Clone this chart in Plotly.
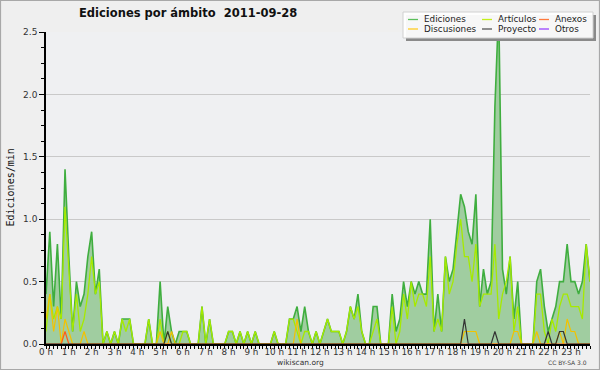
import plotly.graph_objects as go

# 10-minute bins, 0h00 .. 23h50 (edits per minute)
bins = list(range(144))
hour_ticks = list(range(0, 144, 6))
hour_labels = [f"{h} h" for h in range(24)]

ediciones = [0.4, 0.9, 0.3, 0.8, 0.2, 1.4, 0.7, 0.1, 0.5, 0.3, 0.4, 0.7,
             0.9, 0.4, 0.6, 0.0, 0.1, 0.0, 0.1, 0.0, 0.2, 0.2, 0.2, 0.0,
             0.0, 0.0, 0.0, 0.2, 0.0, 0.0, 0.5, 0.0, 0.3, 0.1, 0.0, 0.1,
             0.1, 0.1, 0.0, 0.0, 0.0, 0.3, 0.0, 0.2, 0.0, 0.0, 0.0, 0.0,
             0.1, 0.1, 0.0, 0.1, 0.0, 0.1, 0.0, 0.1, 0.0, 0.0, 0.0, 0.0,
             0.1, 0.0, 0.0, 0.0, 0.2, 0.2, 0.3, 0.1, 0.3, 0.1, 0.0, 0.1,
             0.0, 0.1, 0.2, 0.1, 0.1, 0.1, 0.0, 0.1, 0.3, 0.2, 0.4, 0.1,
             0.0, 0.0, 0.3, 0.3, 0.0, 0.0, 0.0, 0.4, 0.1, 0.2, 0.5, 0.3,
             0.5, 0.4, 0.5, 0.4, 0.4, 1.0, 0.1, 0.4, 0.1, 0.7, 0.5, 0.6,
             0.9, 1.2, 1.1, 0.9, 0.8, 1.2, 0.3, 0.6, 0.4, 0.5, 1.9, 2.7,
             0.6, 0.4, 0.7, 0.2, 0.5, 0.0, 0.0, 0.0, 0.0, 0.5, 0.6, 0.3,
             0.1, 0.2, 0.3, 0.5, 0.5, 0.8, 0.5, 0.5, 0.4, 0.5, 0.8, 0.5]

articulos = [0.1, 0.4, 0.2, 0.3, 0.2, 1.1, 0.6, 0.1, 0.4, 0.1, 0.2, 0.4,
             0.7, 0.4, 0.5, 0.0, 0.1, 0.0, 0.1, 0.0, 0.2, 0.1, 0.2, 0.0,
             0.0, 0.0, 0.0, 0.2, 0.0, 0.0, 0.2, 0.0, 0.1, 0.0, 0.0, 0.0,
             0.1, 0.1, 0.0, 0.0, 0.0, 0.3, 0.0, 0.2, 0.0, 0.0, 0.0, 0.0,
             0.1, 0.1, 0.0, 0.1, 0.0, 0.1, 0.0, 0.1, 0.0, 0.0, 0.0, 0.0,
             0.1, 0.0, 0.0, 0.0, 0.2, 0.2, 0.1, 0.0, 0.1, 0.1, 0.0, 0.1,
             0.0, 0.1, 0.2, 0.1, 0.1, 0.1, 0.0, 0.1, 0.3, 0.2, 0.3, 0.1,
             0.0, 0.0, 0.1, 0.2, 0.0, 0.0, 0.0, 0.3, 0.0, 0.1, 0.4, 0.2,
             0.5, 0.3, 0.4, 0.4, 0.3, 0.7, 0.1, 0.2, 0.1, 0.7, 0.4, 0.5,
             0.8, 1.0, 0.7, 0.7, 0.5, 0.8, 0.3, 0.4, 0.4, 0.4, 0.8, 0.2,
             0.4, 0.5, 0.7, 0.1, 0.3, 0.0, 0.0, 0.0, 0.0, 0.4, 0.4, 0.1,
             0.0, 0.2, 0.1, 0.3, 0.4, 0.4, 0.3, 0.3, 0.3, 0.2, 0.8, 0.5]

discusiones = [0.2, 0.4, 0.1, 0.3, 0.0, 0.2, 0.1, 0.0, 0.0, 0.0, 0.1, 0.0,
               0.0, 0.0, 0.0, 0.0, 0.0, 0.0, 0.0, 0.0, 0.0, 0.0, 0.0, 0.0,
               0.0, 0.0, 0.0, 0.0, 0.0, 0.0, 0.1, 0.0, 0.0, 0.1, 0.0, 0.0,
               0.0, 0.0, 0.0, 0.0, 0.0, 0.0, 0.0, 0.0, 0.0, 0.0, 0.0, 0.0,
               0.0, 0.0, 0.0, 0.0, 0.0, 0.0, 0.0, 0.0, 0.0, 0.0, 0.0, 0.0,
               0.0, 0.0, 0.0, 0.0, 0.0, 0.0, 0.2, 0.0, 0.0, 0.0, 0.0, 0.0,
               0.0, 0.0, 0.0, 0.0, 0.0, 0.0, 0.0, 0.0, 0.0, 0.0, 0.0, 0.0,
               0.0, 0.0, 0.0, 0.0, 0.0, 0.0, 0.0, 0.0, 0.0, 0.0, 0.0, 0.0,
               0.0, 0.0, 0.0, 0.0, 0.0, 0.0, 0.0, 0.0, 0.0, 0.0, 0.0, 0.0,
               0.0, 0.0, 0.1, 0.1, 0.1, 0.1, 0.0, 0.0, 0.0, 0.0, 0.0, 0.0,
               0.0, 0.0, 0.0, 0.1, 0.1, 0.0, 0.0, 0.0, 0.0, 0.1, 0.0, 0.0,
               0.0, 0.0, 0.0, 0.1, 0.0, 0.2, 0.1, 0.1, 0.0, 0.0, 0.0, 0.0]

anexos = [0.0, 0.0, 0.0, 0.0, 0.0, 0.1, 0.0, 0.0, 0.0, 0.0, 0.0, 0.0,
          0.0, 0.0, 0.0, 0.0, 0.0, 0.0, 0.0, 0.0, 0.0, 0.0, 0.0, 0.0,
          0.0, 0.0, 0.0, 0.0, 0.0, 0.0, 0.0, 0.0, 0.0, 0.0, 0.0, 0.0,
          0.0, 0.0, 0.0, 0.0, 0.0, 0.0, 0.0, 0.0, 0.0, 0.0, 0.0, 0.0,
          0.0, 0.0, 0.0, 0.0, 0.0, 0.0, 0.0, 0.0, 0.0, 0.0, 0.0, 0.0,
          0.0, 0.0, 0.0, 0.0, 0.0, 0.0, 0.0, 0.0, 0.0, 0.0, 0.0, 0.0,
          0.0, 0.0, 0.0, 0.0, 0.0, 0.0, 0.0, 0.0, 0.0, 0.0, 0.0, 0.0,
          0.0, 0.0, 0.0, 0.0, 0.0, 0.0, 0.0, 0.0, 0.0, 0.0, 0.0, 0.0,
          0.0, 0.0, 0.0, 0.0, 0.0, 0.0, 0.0, 0.0, 0.0, 0.0, 0.0, 0.0,
          0.0, 0.0, 0.0, 0.0, 0.0, 0.0, 0.0, 0.0, 0.0, 0.0, 0.0, 0.0,
          0.0, 0.0, 0.0, 0.0, 0.0, 0.0, 0.0, 0.0, 0.0, 0.0, 0.0, 0.0,
          0.0, 0.0, 0.0, 0.0, 0.0, 0.0, 0.0, 0.0, 0.0, 0.0, 0.0, 0.0]

proyecto = [0.0, 0.0, 0.0, 0.0, 0.0, 0.0, 0.0, 0.0, 0.0, 0.0, 0.0, 0.0,
            0.0, 0.0, 0.0, 0.0, 0.0, 0.0, 0.0, 0.0, 0.0, 0.0, 0.0, 0.0,
            0.0, 0.0, 0.0, 0.0, 0.0, 0.0, 0.0, 0.0, 0.1, 0.0, 0.0, 0.0,
            0.0, 0.0, 0.0, 0.0, 0.0, 0.0, 0.0, 0.0, 0.0, 0.0, 0.0, 0.0,
            0.0, 0.0, 0.0, 0.0, 0.0, 0.0, 0.0, 0.0, 0.0, 0.0, 0.0, 0.0,
            0.0, 0.0, 0.0, 0.0, 0.0, 0.0, 0.0, 0.0, 0.0, 0.0, 0.0, 0.0,
            0.0, 0.0, 0.0, 0.0, 0.0, 0.0, 0.0, 0.0, 0.0, 0.0, 0.0, 0.0,
            0.0, 0.0, 0.0, 0.0, 0.0, 0.0, 0.0, 0.0, 0.0, 0.0, 0.0, 0.0,
            0.0, 0.0, 0.0, 0.0, 0.0, 0.0, 0.0, 0.0, 0.0, 0.0, 0.0, 0.0,
            0.0, 0.0, 0.2, 0.0, 0.0, 0.0, 0.0, 0.0, 0.0, 0.0, 0.1, 0.0,
            0.0, 0.0, 0.0, 0.0, 0.0, 0.0, 0.0, 0.0, 0.0, 0.0, 0.0, 0.0,
            0.1, 0.0, 0.0, 0.1, 0.1, 0.0, 0.0, 0.0, 0.0, 0.0, 0.0, 0.0]

y_ticks = [0.0, 0.5, 1.0, 1.5, 2.0, 2.5]
y_labels = ["0.0", "0.5", "1.0", "1.5", "2.0", "2.5"]

legend_rows = [["Ediciones", "Artículos", "Anexos"],
               ["Discusiones", "Proyecto", "Otros"]]
legend_colors = {"Ediciones": "#5cbf5c", "Artículos": "#c4ef1a", "Anexos": "#ff7a3d",
                 "Discusiones": "#ffcc22", "Proyecto": "#555555", "Otros": "#9a44ff"}

W, H = 600, 370
ML, MR, MT, MB = 46, 10, 32, 26
PW, PH = W - ML - MR, H - MT - MB


def fx(px):
    return (px - ML) / PW


def fy(py):
    return (H - MB - py) / PH


FONT = "DejaVu Sans"

fig = go.Figure()
fig.add_trace(go.Scatter(x=bins, y=ediciones, mode="lines", fill="tozeroy",
                         fillcolor="#a0cda0", line=dict(color="#3fae3f", width=1.6),
                         name="Ediciones", showlegend=False, hoverinfo="skip"))
fig.add_trace(go.Scatter(x=bins, y=articulos, mode="lines",
                         line=dict(color="#a6ea00", width=1.3),
                         name="Artículos", showlegend=False, hoverinfo="skip"))
fig.add_trace(go.Scatter(x=bins, y=discusiones, mode="lines",
                         line=dict(color="#f2c200", width=1.2),
                         name="Discusiones", showlegend=False, hoverinfo="skip"))
fig.add_trace(go.Scatter(x=bins, y=anexos, mode="lines",
                         line=dict(color="#ff5a1a", width=1.2),
                         name="Anexos", showlegend=False, hoverinfo="skip"))
fig.add_trace(go.Scatter(x=bins, y=proyecto, mode="lines",
                         line=dict(color="#333333", width=1.2),
                         name="Proyecto", showlegend=False, hoverinfo="skip"))

shapes = []
annotations = []

# outer border
shapes.append(dict(type="rect", xref="paper", yref="paper", layer="above",
                   x0=fx(0.5), x1=fx(599.5), y0=fy(0.5), y1=fy(369.5),
                   line=dict(color="#a8a8a8", width=1.2), fillcolor="rgba(0,0,0,0)"))

# legend box with shadow
shapes.append(dict(type="rect", xref="paper", yref="paper", layer="above",
                   x0=fx(406), x1=fx(596), y0=fy(15), y1=fy(41),
                   line=dict(width=0), fillcolor="#8a8a8a"))
shapes.append(dict(type="rect", xref="paper", yref="paper", layer="above",
                   x0=fx(403), x1=fx(593), y0=fy(12), y1=fy(38),
                   line=dict(color="#d0d0d0", width=1), fillcolor="rgba(255,255,255,0.93)"))
col_x = [408, 482, 539]
row_y = [19.5, 29]
for r, row in enumerate(legend_rows):
    for c, name in enumerate(row):
        x0 = col_x[c]
        yy = row_y[r]
        shapes.append(dict(type="line", xref="paper", yref="paper", layer="above",
                           x0=fx(x0), x1=fx(x0 + 10), y0=fy(yy), y1=fy(yy),
                           line=dict(color=legend_colors[name], width=1.3)))
        annotations.append(dict(text=name, xref="paper", yref="paper",
                                x=fx(x0 + 14), y=fy(yy), xanchor="left", yanchor="middle",
                                showarrow=False, font=dict(family=FONT, size=8.8, color="#222")))

# title
annotations.append(dict(text="<b>Ediciones por ámbito  2011-09-28</b>", xref="paper", yref="paper",
                        x=fx(188), y=fy(13.5), xanchor="center", yanchor="middle",
                        showarrow=False, font=dict(family=FONT, size=11.5, color="#111")))
# y axis title
annotations.append(dict(text="Ediciones/min", xref="paper", yref="paper",
                        x=fx(9.5), y=fy(188), xanchor="center", yanchor="middle", textangle=-90,
                        showarrow=False, font=dict(family="DejaVu Sans Mono", size=10, color="#111")))
# footer
annotations.append(dict(text="wikiscan.org", xref="paper", yref="paper",
                        x=fx(300.5), y=fy(362.5), xanchor="center", yanchor="middle",
                        showarrow=False, font=dict(family=FONT, size=7.5, color="#333")))
annotations.append(dict(text="CC BY-SA 3.0", xref="paper", yref="paper",
                        x=fx(589), y=fy(362.5), xanchor="right", yanchor="middle",
                        showarrow=False, font=dict(family=FONT, size=6, color="#444")))

fig.update_layout(
    width=W, height=H,
    margin=dict(l=ML, r=MR, t=MT, b=MB, pad=0),
    paper_bgcolor="#efefef",
    plot_bgcolor="#eff0f2",
    showlegend=False,
    shapes=shapes,
    annotations=annotations,
    xaxis=dict(range=[0, 143], tickmode="array", tickvals=hour_ticks, ticktext=hour_labels,
               showgrid=False, zeroline=False, showline=True, linecolor="#000", linewidth=1.5,
               ticks="outside", ticklen=3, tickwidth=1, tickcolor="#000",
               ticklabelstandoff=-4,
               tickfont=dict(family=FONT, size=8.8, color="#333"),
               minor=dict(tickmode="linear", tick0=0, dtick=1, ticks="outside",
                          ticklen=3, tickwidth=1, tickcolor="#000", showgrid=False),
               fixedrange=True),
    yaxis=dict(range=[0, 2.5], tickmode="array", tickvals=y_ticks, ticktext=y_labels,
               showgrid=True, gridcolor="#c9c9c9", gridwidth=1, zeroline=False,
               showline=True, linecolor="#000", linewidth=1.5,
               ticks="outside", ticklen=5, tickwidth=1, tickcolor="#000",
               tickfont=dict(family=FONT, size=9, color="#333"),
               minor=dict(tickmode="linear", tick0=0, dtick=0.125, ticks="outside",
                          ticklen=3, tickwidth=1, tickcolor="#000", showgrid=False),
               fixedrange=True),
)

fig.write_html("out.html", config={"displayModeBar": False},
               post_script="document.body.style.margin='0';document.body.style.overflow='hidden';")
